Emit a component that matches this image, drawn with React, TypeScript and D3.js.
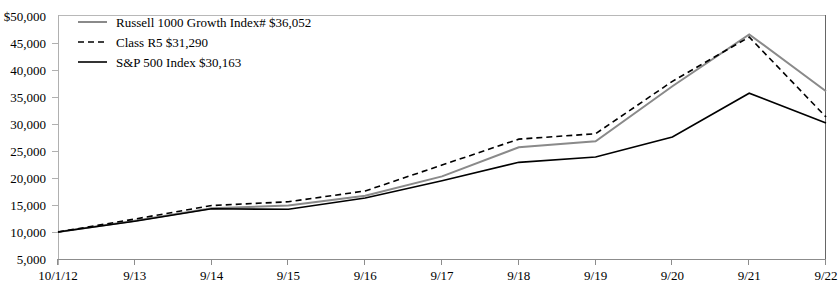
import React from "react";
import * as d3 from "d3";

const dates = ["10/1/12", "9/13", "9/14", "9/15", "9/16", "9/17", "9/18", "9/19", "9/20", "9/21", "9/22"];
const russell = [10000, 12100, 14400, 14900, 16700, 20300, 25700, 26800, 37000, 46600, 36052];
const classR5 = [10000, 12400, 14900, 15600, 17600, 22400, 27200, 28200, 37900, 46100, 31290];
const sp500 = [10000, 12000, 14300, 14200, 16300, 19500, 22900, 23900, 27600, 35700, 30163];
const yTicks = [5000, 10000, 15000, 20000, 25000, 30000, 35000, 40000, 45000, 50000];
const legendLabels = ["Russell 1000 Growth Index# $36,052", "Class R5 $31,290", "S&P 500 Index $30,163"];

const W = 840, H = 287;
const L = 58, R = 826, T = 16, B = 259;
const font = "'Liberation Serif', 'Times New Roman', serif";

export default function App() {
  const x = d3.scalePoint<string>().domain(dates).range([L, R]);
  const y = d3.scaleLinear().domain([5000, 50000]).range([B, T]);
  const line = (vals: number[]) =>
    d3.line<number>().x((_, i) => x(dates[i]) as number).y((v) => y(v))(vals) || "";

  const series = [
    { vals: russell, stroke: "#8a8a8a", width: 2, dash: undefined as string | undefined },
    { vals: classR5, stroke: "#000", width: 1.6, dash: "6,4" },
    { vals: sp500, stroke: "#000", width: 1.6, dash: undefined },
  ];

  return (
    <svg width={W} height={H} style={{ position: "absolute", left: 0, top: 0 }}>
      <rect width={W} height={H} fill="#fff" />
      {/* frame */}
      <line x1={L} x2={R} y1={T - 0.5} y2={T - 0.5} stroke="#b8b8b8" />
      <line x1={R - 0.5} x2={R - 0.5} y1={T - 1} y2={B + 6} stroke="#666" />
      <line x1={L + 0.5} x2={L + 0.5} y1={T - 1} y2={B + 6} stroke="#b0b0b0" />
      <line x1={L} x2={R} y1={B + 0.5} y2={B + 0.5} stroke="#8c8c8c" />
      {yTicks.map((t) => (
        <g key={t}>
          {t !== 5000 && t !== 50000 && (
            <line x1={L - 6} x2={L} y1={Math.round(y(t)) + 0.5} y2={Math.round(y(t)) + 0.5} stroke="#b0b0b0" />
          )}
          <text x={46} y={y(t)} dy="0.35em" textAnchor="end" fontFamily={font} fontSize={13} fill="#000">
            {t === 50000 ? "$" + d3.format(",")(t) : d3.format(",")(t)}
          </text>
        </g>
      ))}
      {dates.map((d) => (
        <g key={d}>
          <line x1={Math.round(x(d) as number) - 0.5} x2={Math.round(x(d) as number) - 0.5} y1={B} y2={B + 6} stroke="#8c8c8c" />
          <text x={x(d)} y={280} textAnchor="middle" fontFamily={font} fontSize={13} fill="#000">
            {d}
          </text>
        </g>
      ))}
      {series.map((s, i) => (
        <path key={i} d={line(s.vals)} fill="none" stroke={s.stroke} strokeWidth={s.width} strokeDasharray={s.dash} strokeLinejoin="miter" />
      ))}
      {series.map((s, i) => {
        const ly = 22 + i * 20;
        return (
          <g key={"lg" + i}>
            <line x1={78} x2={107} y1={ly} y2={ly} stroke={s.stroke} strokeWidth={s.width} strokeDasharray={s.dash} />
            <text x={116} y={ly} dy="0.35em" fontFamily={font} fontSize={13} fill="#000">
              {legendLabels[i]}
            </text>
          </g>
        );
      })}
    </svg>
  );
}
